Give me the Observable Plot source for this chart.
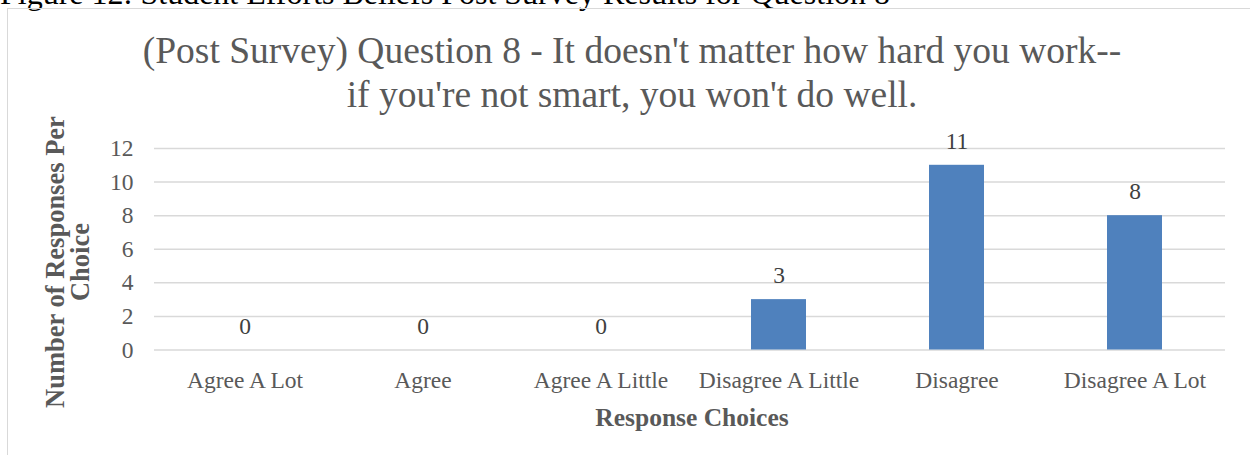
<!DOCTYPE html>
<html>
<head>
<meta charset="utf-8">
<script src="https://cdn.jsdelivr.net/npm/d3@7"></script>
<script src="https://cdn.jsdelivr.net/npm/@observablehq/plot@0.6"></script>
<style>
  body { margin: 0; background: #fff; }
  #page {
    position: relative; width: 1250px; height: 455px; overflow: hidden;
    font-family: "Liberation Serif", "Times New Roman", serif;
  }
  #caption {
    position: absolute; left: 0; top: -22.8px; font-size: 32px; line-height: 32px;
    color: #000; white-space: nowrap;
  }
  #chart { position: absolute; left: 0; top: 0; }
  #title {
    position: absolute; left: 32px; width: 1200px; top: 28.5px; text-align: center;
    font-size: 37.5px; line-height: 44px; color: #595959; white-space: nowrap;
  }
  #ylabel {
    position: absolute; left: -103px; top: 238px; width: 340px; height: 48px;
    text-align: center; font-weight: bold; font-size: 26.5px; line-height: 25px;
    color: #595959; white-space: nowrap; transform: rotate(-90deg);
  }
  #xlabel {
    position: absolute; left: 492px; width: 400px; top: 402.6px; text-align: center;
    font-weight: bold; font-size: 25.5px; line-height: 30px; color: #595959; white-space: nowrap;
  }
  #frame {
    position: absolute; left: 7px; top: 8px; width: 1300px; height: 500px;
    border: 1px solid #d9d9d9; pointer-events: none;
  }
</style>
</head>
<body>
<div id="page">
  <div id="caption">Figure 12: Student Efforts Beliefs Post Survey Results for Question 8</div>
  <div id="chart"></div>
  <div id="title">(Post Survey) Question 8 - It doesn't matter how hard you work--<br>if you're not smart, you won't do well.</div>
  <div id="ylabel">Number of Responses Per<br>Choice</div>
  <div id="xlabel">Response Choices</div>
  <div id="frame"></div>
</div>
<script>
// Response categories and the number of students choosing each
const choices = ["Agree A Lot", "Agree", "Agree A Little", "Disagree A Little", "Disagree", "Disagree A Lot"];
const counts = [0, 0, 0, 3, 11, 8];
const yTicks = [0, 2, 4, 6, 8, 10, 12];

const rows = choices.map((choice, i) => ({choice, count: counts[i]}));

const chart = Plot.plot({
  width: 1250,
  height: 455,
  marginLeft: 154,
  marginRight: 25,
  marginTop: 148,
  marginBottom: 105.5,
  style: {
    fontFamily: '"Liberation Serif", "Times New Roman", serif',
    fontSize: "23.5px",
    color: "#595959",
    background: "transparent",
    overflow: "visible"
  },
  x: {domain: choices, paddingInner: 0.69, paddingOuter: 0.345, align: 0.5, label: null},
  y: {domain: [0, 12], label: null},
  marks: [
    Plot.ruleY(yTicks, {stroke: "#d9d9d9", strokeWidth: 1.5}),
    Plot.barY(rows, {x: "choice", y: "count", fill: "#4f81bd"}),
    Plot.text(rows, {
      x: "choice", y: "count", text: d => String(d.count),
      dy: -24, fill: "#404040", fontSize: 23.5
    }),
    Plot.axisY(yTicks, {tickSize: 0, tickPadding: 21, fontSize: 23.5, label: null}),
    Plot.axisX({tickSize: 0, tickPadding: 21, fontSize: 23.5, label: null})
  ]
});

document.getElementById("chart").appendChild(chart);
</script>
</body>
</html>
